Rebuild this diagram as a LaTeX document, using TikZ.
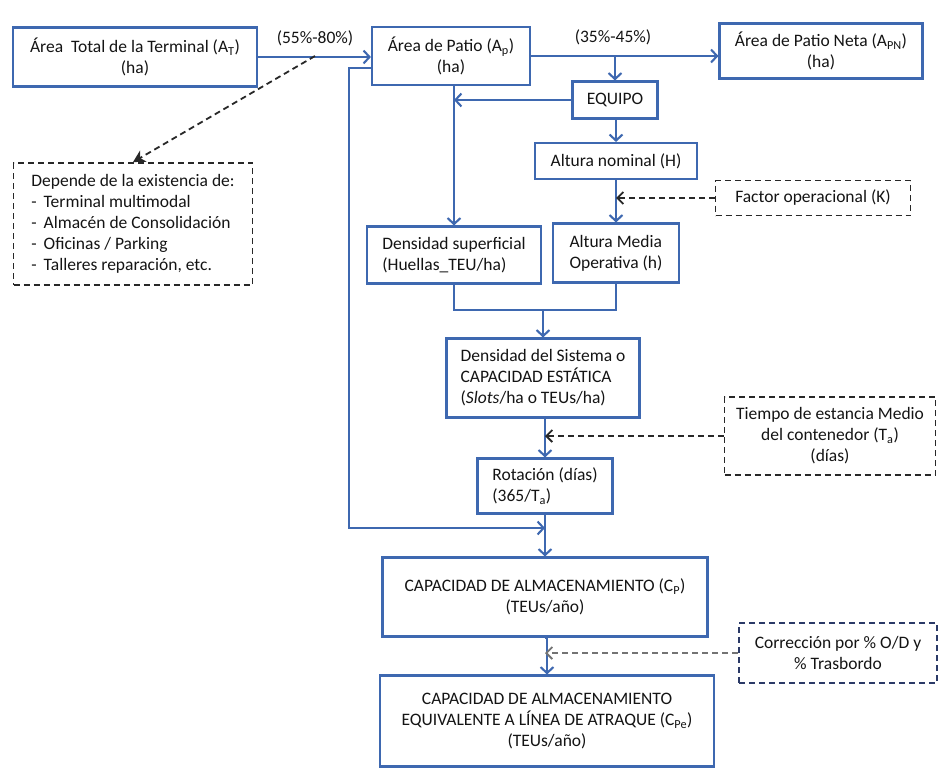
\documentclass[tikz,border=0pt]{standalone}
\usepackage{fontspec}
\setmainfont{Carlito}
\usetikzlibrary{calc,positioning}
\usetikzlibrary{arrows.meta}
\definecolor{azul}{RGB}{62,104,176}
\definecolor{gris}{RGB}{40,40,40}
\definecolor{marino}{RGB}{43,58,103}
\definecolor{tinta}{RGB}{20,20,20}

\begin{document}
\begin{tikzpicture}[x=1pt,y=-1pt,
    font=\fontsize{17.5}{21}\selectfont,
    every node/.style={text=tinta},
    caja/.style={draw=azul,line width=2.1pt,fill=white,inner sep=2pt,align=center},
    nota/.style={draw=gris,line width=1.8pt,dash pattern=on 6pt off 4pt,inner sep=2pt,align=center},
    flecha/.style={azul,line width=2.1pt,-{Straight Barb[length=6pt,width=13pt]}},
    punteada/.style={gris,line width=1.8pt,dash pattern=on 6pt off 4pt,-{Straight Barb[length=6pt,width=12pt]}}
  ]
        \useasboundingbox (0,0) rectangle (939,772);

        % cajas de area
        \node[caja,minimum width=244pt,minimum height=59pt] (total) at (135,57) {Área~~Total de la Terminal (A\textsubscript{T})\\(ha)};
        \node[caja,minimum width=158pt,minimum height=58pt] (patio) at (451,56) {Área de Patio (A\textsubscript{p})\\(ha)};
        \node[caja,minimum width=203pt,minimum height=55pt] (neta) at (821,51) {Área de Patio Neta (A\textsubscript{PN})\\(ha)};
        \node (pct1) at (315,38) {(55\%-80\%)};
        \node (pct2) at (613,37) {(35\%-45\%)};

        \node[nota,align=left,minimum width=239pt,minimum height=122pt] (depende) at (133,224)
            {Depende de la existencia de:\\
             -\hspace{7pt}Terminal multimodal\\
             -\hspace{7pt}Almacén de Consolidación\\
             -\hspace{7pt}Oficinas / Parking\\
             -\hspace{7pt}Talleres reparación, etc.};

        % equipo y alturas
        \node[caja,minimum width=85pt,minimum height=37pt] (equipo) at (615,100) {EQUIPO};
        \node[caja,minimum width=162pt,minimum height=36pt] (nominal) at (616,161) {Altura nominal (H)};
        \node[nota,minimum width=195pt,minimum height=35pt] (factor) at (813,198) {Factor operacional (K)};
        \node[caja,align=left,minimum width=174pt,minimum height=57pt] (densup) at (454,255) {Densidad superficial\\(Huellas\_TEU/ha)};
        \node[caja,align=left,minimum width=126pt,minimum height=59pt] (media) at (616,253) {Altura Media\\Operativa (h)};

        % capacidad
        \node[caja,align=left,minimum width=193pt,minimum height=79pt] (sistema) at (543,378) {Densidad del Sistema o\\CAPACIDAD ESTÁTICA\\(\textit{Slots}/ha o TEUs/ha)};
        \node[caja,align=left,minimum width=135pt,minimum height=55pt] (rotacion) at (545,486) {Rotación (días)\\(365/T\textsubscript{a})};
        \node[nota,minimum width=211pt,minimum height=78pt] (tiempo) at (830,436) {Tiempo de estancia Medio\\del contenedor (T\textsubscript{a})\\(días)};
        \node[caja,minimum width=325pt,minimum height=79pt] (capac) at (545,597) {CAPACIDAD DE ALMACENAMIENTO (C\textsubscript{P})\\(TEUs/año)};
        \node[nota,draw=marino,minimum width=198pt,minimum height=60pt] (correc) at (838,653) {Corrección por \% O/D y\\\% Trasbordo};
        \node[caja,minimum width=334pt,minimum height=91pt] (capeq) at (547,721) {CAPACIDAD DE ALMACENAMIENTO\\EQUIVALENTE A LÍNEA DE ATRAQUE (C\textsubscript{Pe})\\(TEUs/año)};

        \coordinate (cruce) at (315,56);
        \coordinate (junta) at (543,310);
        \coordinate (retorno) at (349,528);

        % conectores
        \draw[flecha] (total.east) -- (total.east -| patio.west);
        \draw[flecha] (patio.east) -- (patio.east -| neta.west);
        \draw[flecha] (patio.east -| equipo.north) -- (equipo.north);
        \draw[flecha] (equipo.west) -- (equipo.west -| densup.north);
        \draw[flecha] (patio.south -| densup.north) -- (densup.north);
        \draw[flecha] (equipo.south -| nominal.north) -- (nominal.north);
        \draw[flecha] (nominal.south) -- (nominal.south -| media.north) -- (media.north);
        \draw[punteada] (factor.west) -- (factor.west -| nominal.south);
        \draw[azul,line width=2.1pt] (densup.south) |- (junta) -| (media.south);
        \draw[flecha] (junta) -- (junta |- sistema.north);
        \draw[flecha] (sistema.south -| rotacion.north) -- (rotacion.north);
        \draw[punteada] (tiempo.west) -- (tiempo.west -| rotacion.north);
        \draw[flecha] (rotacion.south) -- (capac.north);
        \draw[flecha] ($(patio.west)+(0,12)$) -| (retorno) -- (retorno -| capac.north);
        \draw[flecha] (capac.south) -- (capac.south -| capeq.north) -- (capeq.north);
        \draw[punteada,gris!65] (correc.west) -- (correc.west -| capac.south);
        \draw[gris,line width=1.8pt,dash pattern=on 6pt off 4pt,-{Stealth[length=12pt,width=13pt]}] (cruce) -- (depende.north);
\end{tikzpicture}
\end{document}
